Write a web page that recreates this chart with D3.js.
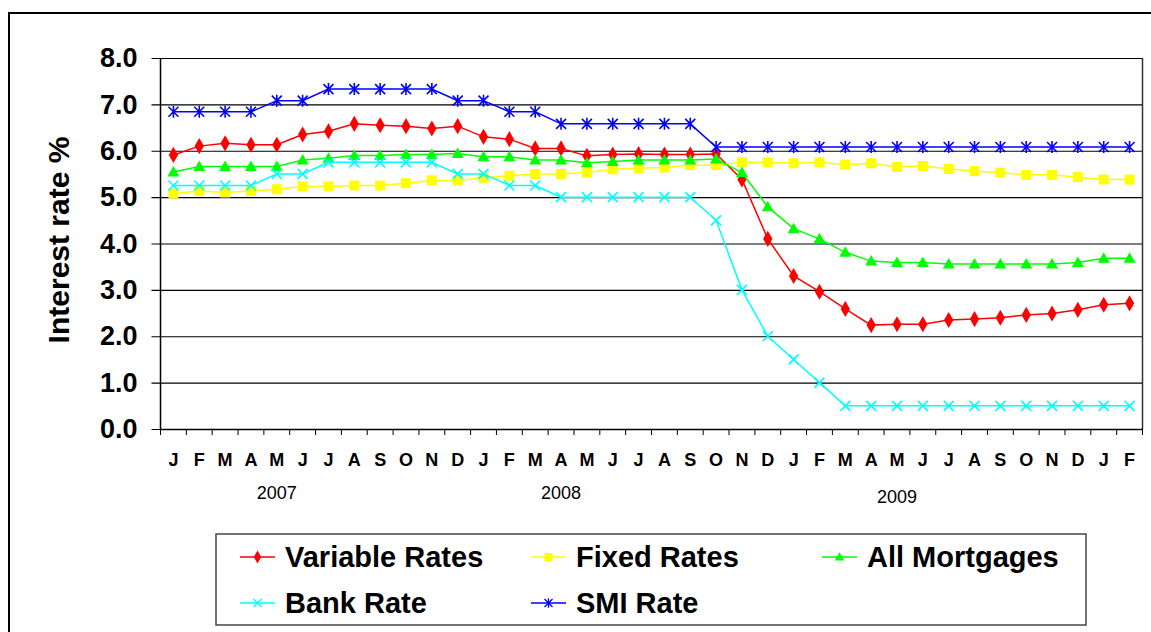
<!DOCTYPE html>
<html>
<head>
<meta charset="utf-8">
<script src="https://cdn.jsdelivr.net/npm/d3@7"></script>
<style>
  body { margin: 0; background: #fff; }
  svg { display: block; font-family: Arial, "Liberation Sans", sans-serif; }
</style>
</head>
<body>
<div id="wrapper"></div>
<script>
// month letters J 2007 .. F 2010
const monthLabels = ["J","F","M","A","M","J","J","A","S","O","N","D",
                     "J","F","M","A","M","J","J","A","S","O","N","D",
                     "J","F","M","A","M","J","J","A","S","O","N","D",
                     "J","F"]
// year label and the month index it sits under
const yearLabels = [
  { text: "2007", month: 4 },
  { text: "2008", month: 15 },
  { text: "2009", month: 28 },
]
const yTicks = [0, 1, 2, 3, 4, 5, 6, 7, 8]

const variableRates = [5.91,6.10,6.16,6.13,6.13,6.35,6.42,6.58,6.55,6.53,6.48,6.53,
                       6.30,6.25,6.05,6.05,5.89,5.92,5.93,5.92,5.92,5.93,5.38,4.10,
                       3.30,2.96,2.59,2.24,2.26,2.26,2.35,2.37,2.40,2.46,2.49,2.57,
                       2.68,2.71]
const fixedRates = [5.08,5.13,5.10,5.13,5.17,5.23,5.23,5.25,5.25,5.30,5.36,5.36,
                    5.42,5.46,5.50,5.50,5.53,5.60,5.62,5.64,5.69,5.69,5.75,5.75,
                    5.73,5.75,5.70,5.73,5.65,5.67,5.61,5.56,5.53,5.48,5.48,5.43,
                    5.38,5.38]
const allMortgages = [5.54,5.66,5.66,5.66,5.66,5.80,5.84,5.90,5.90,5.92,5.92,5.94,
                      5.87,5.87,5.80,5.80,5.74,5.77,5.80,5.80,5.80,5.82,5.53,4.79,
                      4.32,4.10,3.81,3.62,3.59,3.59,3.56,3.56,3.56,3.56,3.56,3.59,
                      3.68,3.68]
const bankRate = [5.25,5.25,5.25,5.25,5.50,5.50,5.75,5.75,5.75,5.75,5.75,5.50,
                  5.50,5.25,5.25,5.00,5.00,5.00,5.00,5.00,5.00,4.50,3.00,2.00,
                  1.50,1.00,0.50,0.50,0.50,0.50,0.50,0.50,0.50,0.50,0.50,0.50,
                  0.50,0.50]
const smiRate = [6.84,6.84,6.84,6.84,7.08,7.08,7.33,7.33,7.33,7.33,7.33,7.08,
                 7.08,6.84,6.84,6.58,6.58,6.58,6.58,6.58,6.58,6.08,6.08,6.08,
                 6.08,6.08,6.08,6.08,6.08,6.08,6.08,6.08,6.08,6.08,6.08,6.08,
                 6.08,6.08]

const series = [
  { name: "Variable Rates", values: variableRates, color: "#ff0000", marker: "diamond" },
  { name: "Fixed Rates", values: fixedRates, color: "#ffff00", marker: "square" },
  { name: "All Mortgages", values: allMortgages, color: "#00ff00", marker: "triangle" },
  { name: "Bank Rate", values: bankRate, color: "#00ffff", marker: "cross" },
  { name: "SMI Rate", values: smiRate, color: "#0000ff", marker: "star" },
]

const dimensions = {
  width: 1151,
  height: 632,
  margin: { top: 58, right: 8.5, bottom: 203, left: 160.5 },
}
dimensions.boundedWidth = dimensions.width - dimensions.margin.left - dimensions.margin.right
dimensions.boundedHeight = dimensions.height - dimensions.margin.top - dimensions.margin.bottom

const wrapper = d3.select("#wrapper")
  .append("svg")
  .attr("width", dimensions.width)
  .attr("height", dimensions.height)

// outer chart frame (runs off the right and bottom of the picture)
wrapper.append("rect")
  .attr("x", 9).attr("y", 13)
  .attr("width", 1200).attr("height", 700)
  .attr("fill", "none").attr("stroke", "#000").attr("stroke-width", 2)

const bounds = wrapper.append("g")
  .attr("transform", `translate(${dimensions.margin.left}, ${dimensions.margin.top})`)

const xScale = d3.scaleBand()
  .domain(d3.range(monthLabels.length))
  .range([0, dimensions.boundedWidth])
  .padding(0)

const yScale = d3.scaleLinear()
  .domain([0, 8])
  .range([dimensions.boundedHeight, 0])

const xc = i => xScale(i) + xScale.bandwidth() / 2

// gridlines + left ticks
const yAxis = bounds.append("g")
  .call(d3.axisLeft(yScale)
    .tickValues(yTicks)
    .tickSizeInner(-dimensions.boundedWidth)
    .tickSizeOuter(0)
    .tickPadding(23)
    .tickFormat(d3.format(".1f")))
yAxis.select(".domain").remove()
yAxis.selectAll(".tick line")
  .attr("x1", -9)
  .attr("stroke", "#000")
  .attr("stroke-width", 1.2)
yAxis.selectAll(".tick text")
  .attr("font-size", 27)
  .attr("font-weight", "bold")
  .attr("fill", "#000")

// plot frame: left axis + right edge
bounds.append("line")
  .attr("x1", 0).attr("x2", 0).attr("y1", 0).attr("y2", dimensions.boundedHeight)
  .attr("stroke", "#000").attr("stroke-width", 1.5)
bounds.append("line")
  .attr("x1", dimensions.boundedWidth).attr("x2", dimensions.boundedWidth)
  .attr("y1", 0).attr("y2", dimensions.boundedHeight)
  .attr("stroke", "#333").attr("stroke-width", 1.5)

// x axis: labels centered on months, ticks between them
const xAxis = bounds.append("g")
  .attr("transform", `translate(0, ${dimensions.boundedHeight})`)
  .call(d3.axisBottom(xScale)
    .tickSize(0)
    .tickPadding(24)
    .tickFormat(i => monthLabels[i]))
xAxis.select(".domain").attr("stroke", "#000").attr("stroke-width", 1.5)
xAxis.selectAll(".tick text")
  .attr("font-size", 18)
  .attr("font-weight", "bold")
  .attr("fill", "#000")

xAxis.selectAll(".boundary")
  .data(d3.range(monthLabels.length + 1))
  .enter()
  .append("line")
  .attr("x1", i => i * xScale.step())
  .attr("x2", i => i * xScale.step())
  .attr("y1", 0).attr("y2", 6)
  .attr("stroke", "#000")

xAxis.selectAll(".year")
  .data(yearLabels)
  .enter()
  .append("text")
  .attr("x", d => xc(d.month))
  .attr("y", (d, i) => i === 2 ? 74 : 70)
  .attr("text-anchor", "middle")
  .attr("font-size", 18)
  .attr("fill", "#000")
  .text(d => d.text)

// y axis title
wrapper.append("text")
  .attr("transform", `translate(69, 240) rotate(-90)`)
  .attr("text-anchor", "middle")
  .attr("font-size", 30)
  .attr("font-weight", "bold")
  .text("Interest rate %")

// marker shapes
function drawMarker(sel, kind, color) {
  if (kind === "diamond") {
    sel.append("path").attr("d", d3.symbol(d3.symbolDiamond, 75)())
      .attr("fill", color)
  } else if (kind === "square") {
    sel.append("rect").attr("x", -5).attr("y", -5).attr("width", 10).attr("height", 10)
      .attr("fill", color)
  } else if (kind === "triangle") {
    sel.append("path").attr("d", "M0,-6L6,4.5L-6,4.5Z").attr("fill", color)
  } else if (kind === "cross") {
    sel.append("path").attr("d", "M-5,-5L5,5M-5,5L5,-5")
      .attr("stroke", color).attr("stroke-width", 1.6).attr("fill", "none")
  } else {
    sel.append("path").attr("d", "M-5,-5L5,5M-5,5L5,-5M0,-6L0,6")
      .attr("stroke", color).attr("stroke-width", 1.6).attr("fill", "none")
  }
}

const lineGen = d3.line()
  .x((d, i) => xc(i))
  .y(d => yScale(d))

const seriesGroups = bounds.selectAll(".series")
  .data(series)
  .enter()
  .append("g")

seriesGroups.append("path")
  .attr("d", d => lineGen(d.values))
  .attr("fill", "none")
  .attr("stroke", d => d.color)
  .attr("stroke-width", 1.5)

seriesGroups.each(function (s) {
  d3.select(this).selectAll(".pt")
    .data(s.values)
    .enter()
    .append("g")
    .attr("transform", (d, i) => `translate(${xc(i)}, ${yScale(d)})`)
    .each(function () { drawMarker(d3.select(this), s.marker, s.color) })
})

// legend
const legend = wrapper.append("g")
legend.append("rect")
  .attr("x", 216).attr("y", 534)
  .attr("width", 870).attr("height", 91)
  .attr("fill", "#fff").attr("stroke", "#444").attr("stroke-width", 1.5)

const legendItems = legend.selectAll(".item")
  .data(series)
  .enter()
  .append("g")
  .attr("transform", (d, i) => `translate(${240 + (i % 3) * 291}, ${557 + Math.floor(i / 3) * 46})`)

legendItems.append("line")
  .attr("x1", 0).attr("x2", 35)
  .attr("stroke", d => d.color).attr("stroke-width", 1.5)
legendItems.append("g")
  .attr("transform", "translate(17.5, 0) scale(0.8)")
  .each(function (d) { drawMarker(d3.select(this), d.marker, d.color) })
legendItems.append("text")
  .attr("x", 45)
  .attr("dy", "0.36em")
  .attr("font-size", 29)
  .attr("font-weight", "bold")
  .text(d => d.name)
</script>
</body>
</html>
